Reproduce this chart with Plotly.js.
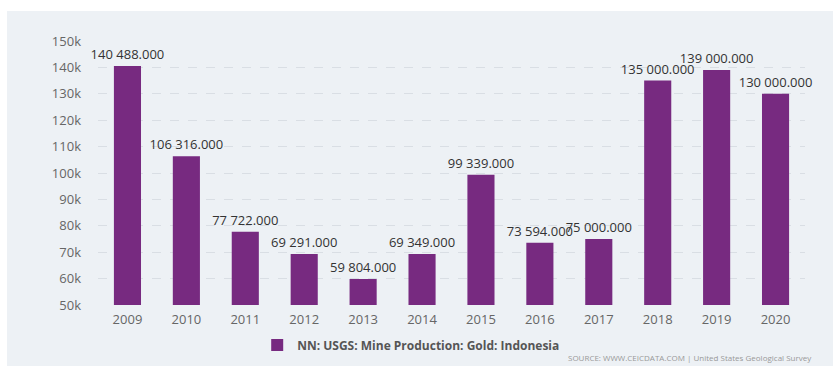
<!DOCTYPE html>
<html><head><meta charset="utf-8">
<script src="https://cdn.plot.ly/plotly-3.0.1.min.js"></script>
<style>
html,body{margin:0;padding:0;background:#fff;width:833px;height:367px;overflow:hidden}
#chart{position:absolute;left:7px;top:11px;width:826px;height:355px}
</style></head><body>
<div id="chart"></div>
<script>
const years = ['2009','2010','2011','2012','2013','2014','2015','2016','2017','2018','2019','2020'];
const production = [140488, 106316, 77722, 69291, 59804, 69349, 99339, 73594, 75000, 135000, 139000, 130000];
const seriesName = 'NN: USGS: Mine Production: Gold: Indonesia';
const sourceText = 'SOURCE: WWW.CEICDATA.COM | United States Geological Survey';
const yTickVals = [50000,60000,70000,80000,90000,100000,110000,120000,130000,140000,150000];
const yTickText = ['50k','60k','70k','80k','90k','100k','110k','120k','130k','140k','150k'];

const trace = {
  type: 'bar', x: years, y: production, name: seriesName,
  marker: {color: '#772a80'},
  texttemplate: '%{y:,.3f}', textposition: 'outside', cliponaxis: false, constraintext: 'none',
  textfont: {family: 'Open Sans, sans-serif', size: 13, color: '#333'},
  hoverinfo: 'x+y'
};
const layout = {
  separators: '. ',
  paper_bgcolor: '#edf1f5', plot_bgcolor: '#edf1f5',
  margin: {l: 91, r: 28, t: 30, b: 61, autoexpand: false},
  bargap: 0.54,
  showlegend: true,
  legend: {orientation: 'h', x: 0.443, xanchor: 'center', yref: 'container', y: 0.059, yanchor: 'middle',
    font: {family: 'Open Sans, sans-serif', size: 12, color: '#555', weight: 'bold'}},
  xaxis: {type: 'category', showgrid: false, zeroline: false, showline: false, ticks: '',
    ticklabelstandoff: 5,
    tickfont: {family: 'Open Sans, sans-serif', size: 13, color: '#666'}},
  yaxis: {range: [50000, 150000], tickvals: yTickVals, ticktext: yTickText,
    showgrid: true, gridcolor: '#d9dee4', griddash: 'dash', zeroline: false, ticks: '',
    tickfont: {family: 'Open Sans, sans-serif', size: 13, color: '#666'}, ticklabelstandoff: 16},
  annotations: [{xref: 'paper', yref: 'paper', x: 1.013, y: -0.2, xanchor: 'right', yanchor: 'middle',
    text: sourceText, showarrow: false, font: {family: 'Open Sans, sans-serif', size: 8, color: '#999'}}]
};
Plotly.newPlot('chart', [trace], layout, {displayModeBar: false, staticPlot: true});
</script></body></html>
